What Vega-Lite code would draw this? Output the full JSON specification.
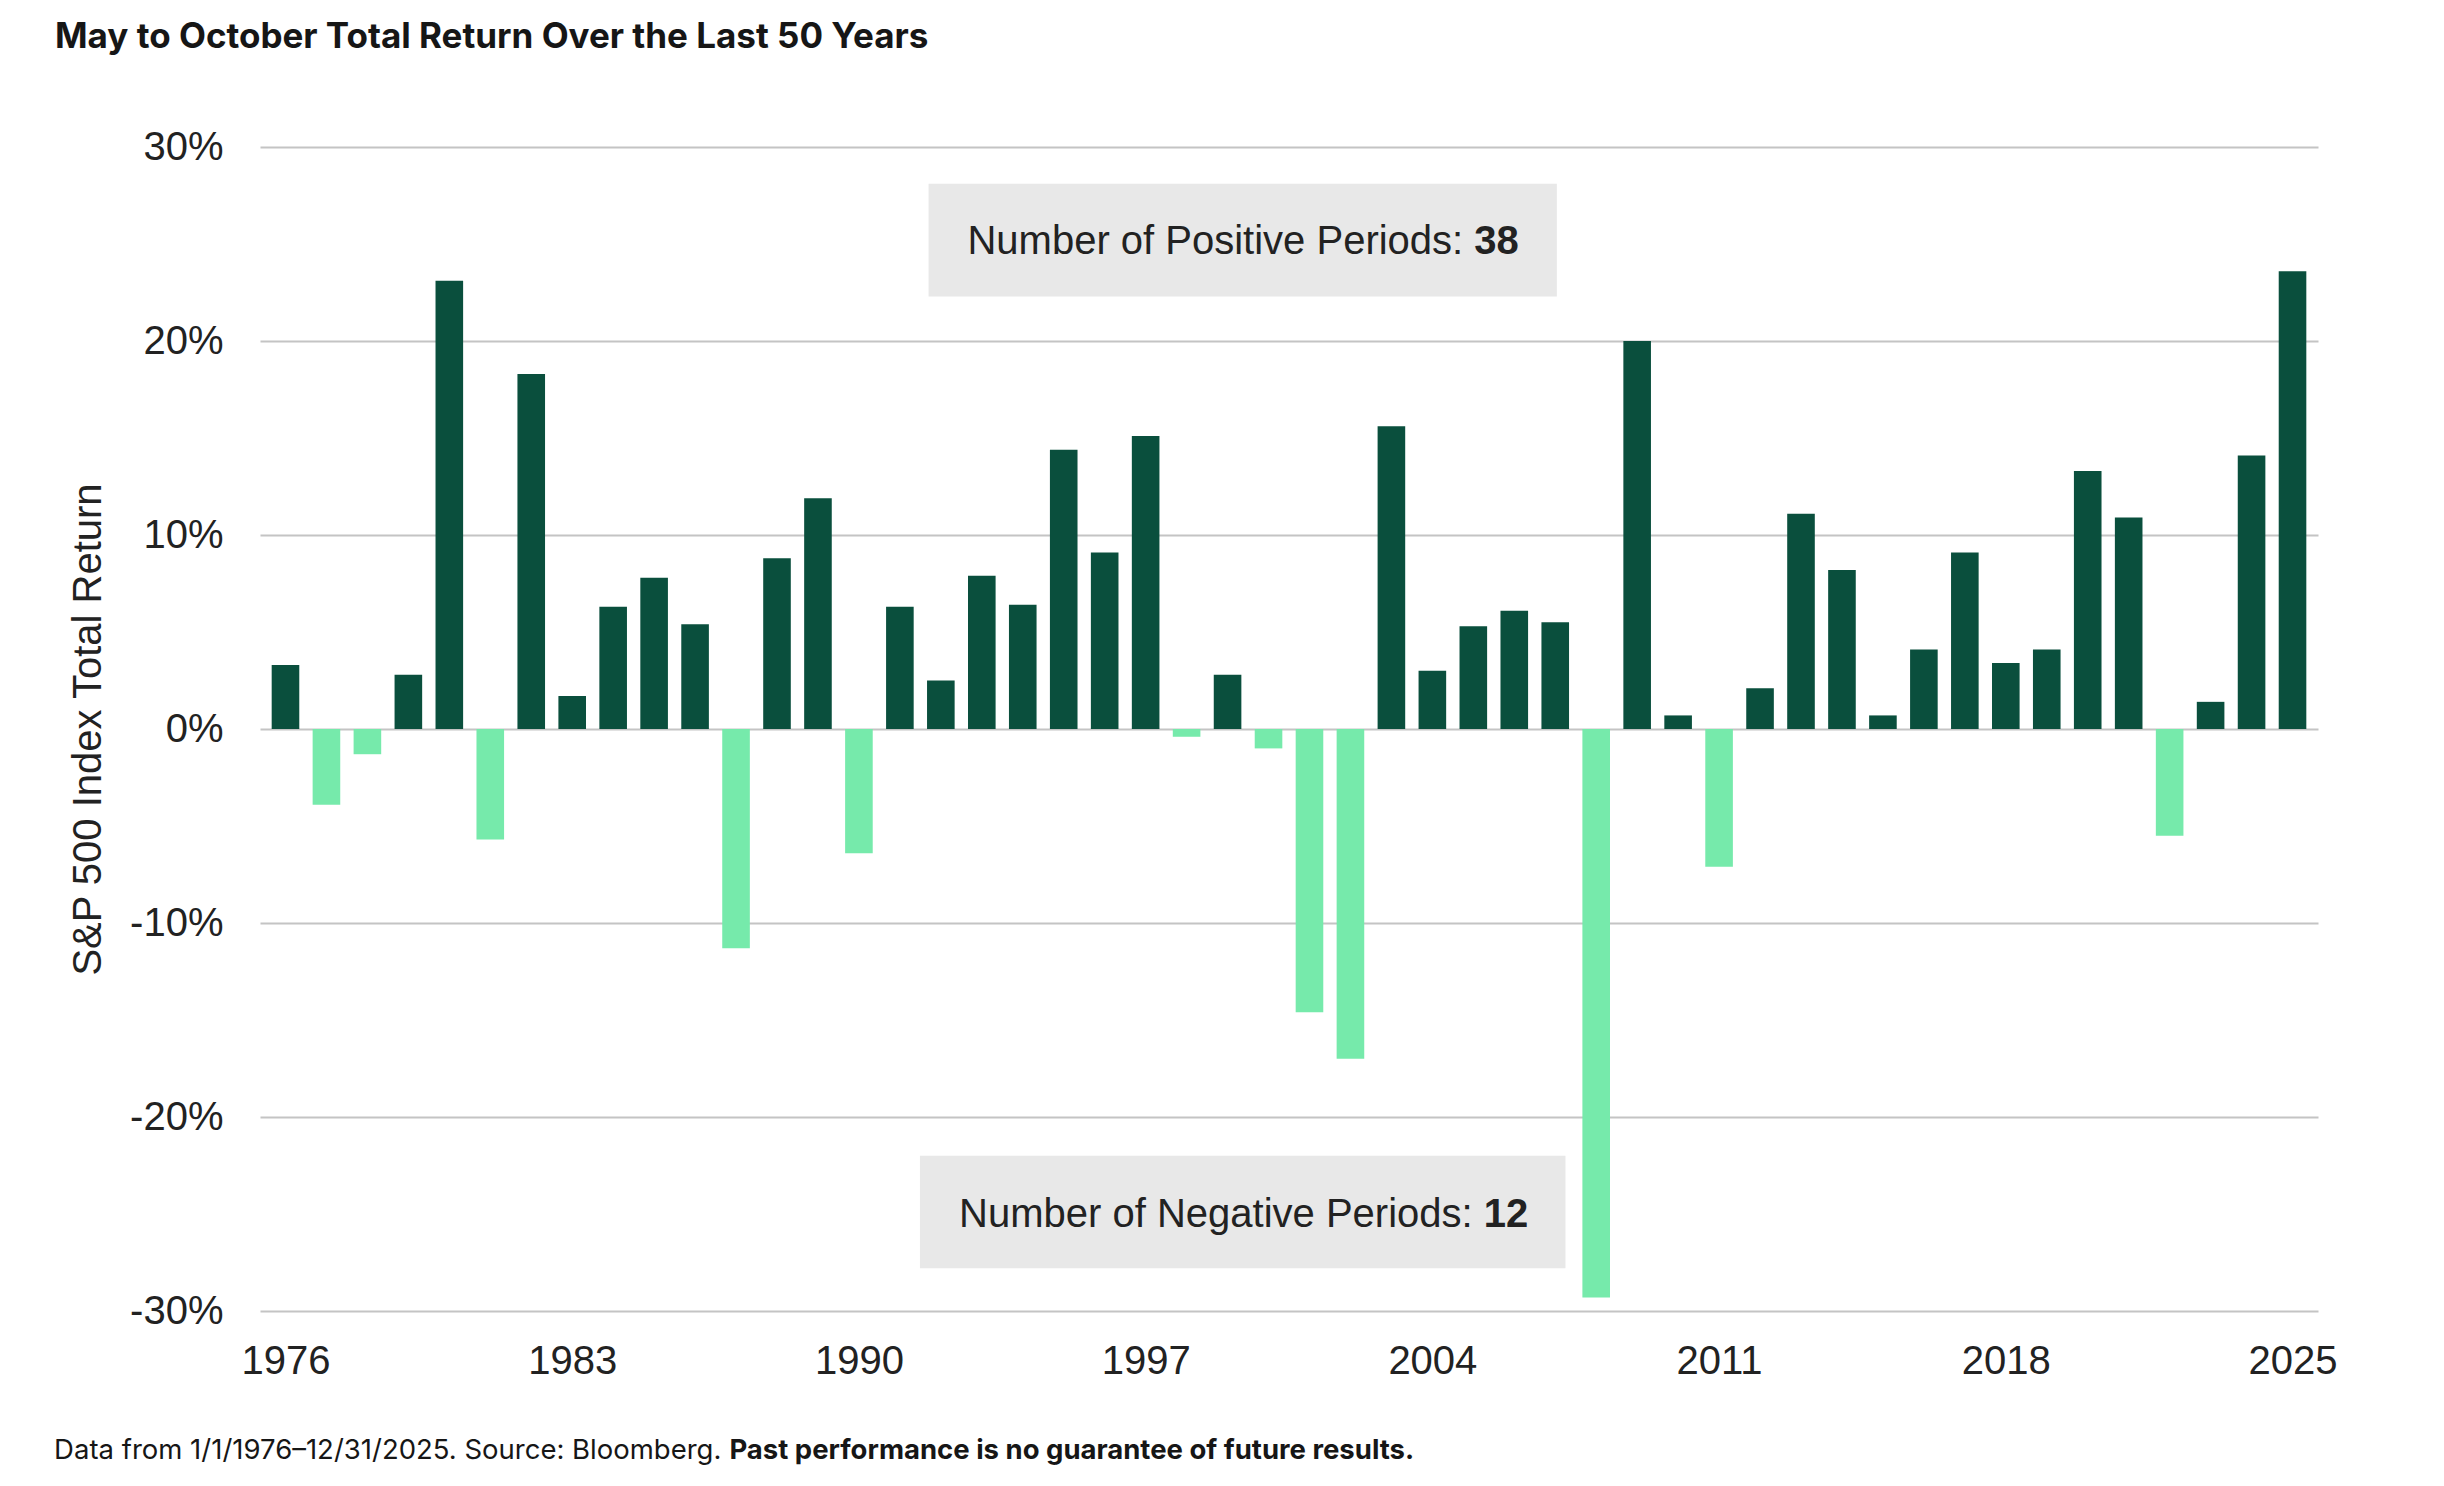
{
  "$schema": "https://vega.github.io/schema/vega-lite/v6.json",
  "width": 2058,
  "height": 1164,
  "autosize": {"type": "none"},
  "padding": {"left": 260, "top": 147, "right": 126, "bottom": 175},
  "background": "white",
  "title": {
    "text": "May to October Total Return Over the Last 50 Years",
    "anchor": "start",
    "frame": "group",
    "font": "Inter",
    "fontSize": 35,
    "fontWeight": "bold",
    "color": "#161616",
    "baseline": "alphabetic",
    "dx": -205,
    "offset": 44
  },
  "config": {
    "view": {"stroke": null},
    "axisY": {
      "grid": true,
      "gridColor": "#c4c4c4",
      "gridWidth": 2,
      "ticks": false,
      "domain": false,
      "labelPadding": 37,
      "labelFont": "Liberation Sans",
      "labelFontSize": 40,
      "labelColor": "#222222",
      "titleFont": "Liberation Sans",
      "titleFontSize": 40,
      "titleFontWeight": "normal",
      "titleColor": "#222222",
      "titlePadding": 21
    },
    "axisX": {
      "grid": false,
      "ticks": false,
      "domain": false,
      "labelPadding": 30,
      "labelFont": "Liberation Sans",
      "labelFontSize": 40,
      "labelColor": "#222222"
    }
  },
  "datasets": {
    "returns": [
      {"year": 1976, "value": 3.3}, {"year": 1977, "value": -3.9}, {"year": 1978, "value": -1.3},
      {"year": 1979, "value": 2.8}, {"year": 1980, "value": 23.1}, {"year": 1981, "value": -5.7},
      {"year": 1982, "value": 18.3}, {"year": 1983, "value": 1.7}, {"year": 1984, "value": 6.3},
      {"year": 1985, "value": 7.8}, {"year": 1986, "value": 5.4}, {"year": 1987, "value": -11.3},
      {"year": 1988, "value": 8.8}, {"year": 1989, "value": 11.9}, {"year": 1990, "value": -6.4},
      {"year": 1991, "value": 6.3}, {"year": 1992, "value": 2.5}, {"year": 1993, "value": 7.9},
      {"year": 1994, "value": 6.4}, {"year": 1995, "value": 14.4}, {"year": 1996, "value": 9.1},
      {"year": 1997, "value": 15.1}, {"year": 1998, "value": -0.4}, {"year": 1999, "value": 2.8},
      {"year": 2000, "value": -1.0}, {"year": 2001, "value": -14.6}, {"year": 2002, "value": -17.0},
      {"year": 2003, "value": 15.6}, {"year": 2004, "value": 3.0}, {"year": 2005, "value": 5.3},
      {"year": 2006, "value": 6.1}, {"year": 2007, "value": 5.5}, {"year": 2008, "value": -29.3},
      {"year": 2009, "value": 20.0}, {"year": 2010, "value": 0.7}, {"year": 2011, "value": -7.1},
      {"year": 2012, "value": 2.1}, {"year": 2013, "value": 11.1}, {"year": 2014, "value": 8.2},
      {"year": 2015, "value": 0.7}, {"year": 2016, "value": 4.1}, {"year": 2017, "value": 9.1},
      {"year": 2018, "value": 3.4}, {"year": 2019, "value": 4.1}, {"year": 2020, "value": 13.3},
      {"year": 2021, "value": 10.9}, {"year": 2022, "value": -5.5}, {"year": 2023, "value": 1.4},
      {"year": 2024, "value": 14.1}, {"year": 2025, "value": 23.6}
    ],
    "boxes": [
      {"x1": 1991.7, "x2": 2007.04, "y1": 28.1, "y2": 22.3},
      {"x1": 1991.49, "x2": 2007.25, "y1": -22.0, "y2": -27.8}
    ],
    "notes": [
      {"x": 2004.9, "y": 25.1, "label": "Number of Positive Periods:", "count": "38"},
      {"x": 2005.13, "y": -25.05, "label": "Number of Negative Periods:", "count": "12"}
    ],
    "footer": [
      {"x": 1986.74, "y": -37.2, "plain": "Data from 1/1/1976\u201312/31/2025. Source: Bloomberg.", "bold": "Past performance is no guarantee of future results."}
    ]
  },
  "layer": [
    {
      "data": {"name": "returns"},
      "mark": {"type": "bar", "width": 27.6},
      "encoding": {
        "x": {
          "field": "year", "type": "quantitative", "title": null,
          "scale": {"domain": [1975.5, 2025.5], "nice": false, "zero": false},
          "axis": {"values": [1976, 1983, 1990, 1997, 2004, 2011, 2018, 2025], "format": "d"}
        },
        "y": {
          "field": "value", "type": "quantitative", "title": "S&P 500 Index Total Return",
          "scale": {"domain": [-30, 30], "nice": false},
          "axis": {"values": [-30, -20, -10, 0, 10, 20, 30], "labelExpr": "datum.value + '%'"}
        },
        "color": {
          "condition": {"test": "datum.value >= 0", "value": "#0a4f3d"},
          "value": "#76eaab"
        }
      }
    },
    {
      "mark": {"type": "rule", "color": "#9e9e9e", "strokeWidth": 4},
      "encoding": {"y": {"datum": 0, "type": "quantitative", "title": "S&P 500 Index Total Return"}}
    },
    {
      "data": {"name": "boxes"},
      "mark": {"type": "rect", "color": "#e8e8e8"},
      "encoding": {
        "x": {"field": "x1", "type": "quantitative", "title": null},
        "x2": {"field": "x2"},
        "y": {"field": "y1", "type": "quantitative", "title": "S&P 500 Index Total Return"},
        "y2": {"field": "y2"}
      }
    },
    {
      "data": {"name": "notes"},
      "mark": {"type": "text", "align": "right", "baseline": "middle", "dx": -6, "font": "Liberation Sans", "fontSize": 40, "color": "#222222"},
      "encoding": {
        "x": {"field": "x", "type": "quantitative", "title": null},
        "y": {"field": "y", "type": "quantitative", "title": "S&P 500 Index Total Return"},
        "text": {"field": "label"}
      }
    },
    {
      "data": {"name": "notes"},
      "mark": {"type": "text", "align": "left", "baseline": "middle", "dx": 5, "font": "Liberation Sans", "fontSize": 40, "fontWeight": "bold", "color": "#222222"},
      "encoding": {
        "x": {"field": "x", "type": "quantitative", "title": null},
        "y": {"field": "y", "type": "quantitative", "title": "S&P 500 Index Total Return"},
        "text": {"field": "count"}
      }
    },
    {
      "data": {"name": "footer"},
      "mark": {"type": "text", "align": "right", "baseline": "middle", "dx": -4, "font": "Inter", "fontSize": 27.5, "color": "#161616"},
      "encoding": {
        "x": {"field": "x", "type": "quantitative", "title": null},
        "y": {"field": "y", "type": "quantitative", "title": "S&P 500 Index Total Return"},
        "text": {"field": "plain"}
      }
    },
    {
      "data": {"name": "footer"},
      "mark": {"type": "text", "align": "left", "baseline": "middle", "dx": 4, "font": "Inter", "fontSize": 27.5, "fontWeight": "bold", "color": "#161616"},
      "encoding": {
        "x": {"field": "x", "type": "quantitative", "title": null},
        "y": {"field": "y", "type": "quantitative", "title": "S&P 500 Index Total Return"},
        "text": {"field": "bold"}
      }
    }
  ]
}
